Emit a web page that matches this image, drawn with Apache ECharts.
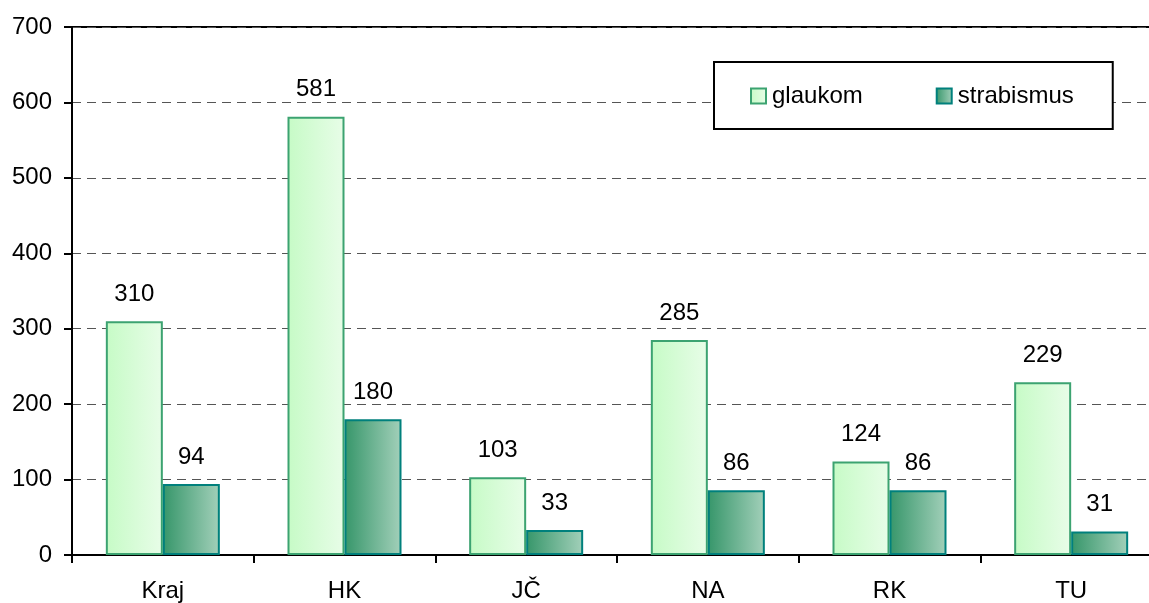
<!DOCTYPE html>
<html>
<head>
<meta charset="utf-8">
<script src="https://cdn.jsdelivr.net/npm/echarts@6/dist/echarts.min.js"></script>
<style>
  html, body { margin: 0; padding: 0; background: #fff; overflow: hidden; }
  /* plot area runs past the right edge of the picture, so the box is wider than the window */
  #chartBox { width: 1170px; height: 603px; }
</style>
</head>
<body>
<div id="chartBox"></div>
<script>
// data
const categories = ['Kraj', 'HK', 'JČ', 'NA', 'RK', 'TU']
const glaukom = [310, 581, 103, 285, 124, 229]
const strabismus = [94, 180, 33, 86, 86, 31]
const seriesNames = ['glaukom', 'strabismus']

const font = 'Arial, "Liberation Sans", sans-serif'

function grad (from, to) {
  return new echarts.graphic.LinearGradient(0, 0, 1, 0, [
    { offset: 0, color: from },
    { offset: 1, color: to }
  ])
}

let myChart = echarts.init(document.getElementById('chartBox'))
myChart.setOption({
  animation: false,
  textStyle: { fontFamily: font },
  grid: {
    left: 72,
    top: 27,
    right: 8,
    height: 528,
    show: true,
    borderColor: '#000',
    borderWidth: 2
  },
  legend: {
    left: 714,
    top: 62,
    orient: 'horizontal',
    icon: 'rect',
    padding: [22, 39, 21, 36],
    itemGap: 73,
    itemWidth: 15,
    itemHeight: 15,
    borderColor: '#000',
    borderWidth: 2,
    backgroundColor: '#fff',
    textStyle: { fontSize: 24, color: '#000', fontFamily: font, padding: [0, 0, 0, 1] },
    data: seriesNames
  },
  xAxis: {
    type: 'category',
    data: categories,
    axisLine: { lineStyle: { color: '#000', width: 2 } },
    axisTick: { show: true, length: 8, interval: 0, lineStyle: { color: '#000', width: 2 } },
    axisLabel: { fontSize: 24, color: '#000', margin: 24, interval: 0 },
    splitLine: { show: false }
  },
  yAxis: {
    type: 'value',
    min: 0,
    max: 700,
    interval: 100,
    axisLine: { show: true, lineStyle: { color: '#000', width: 2 } },
    axisTick: { show: true, length: 8, lineStyle: { color: '#000', width: 2 } },
    axisLabel: { fontSize: 24, color: '#000', margin: 20 },
    splitLine: { show: true, lineStyle: { color: '#555', type: [9, 6], width: 1 } }
  },
  series: [{
    name: seriesNames[0],
    type: 'bar',
    data: glaukom,
    barWidth: 57,
    barGap: '0%',
    itemStyle: {
      color: grad('#c6fbc6', '#e8fde8'),
      borderColor: '#3ca371',
      borderWidth: 2
    },
    label: { show: true, position: 'top', distance: 15, fontSize: 24, color: '#000' }
  }, {
    name: seriesNames[1],
    type: 'bar',
    data: strabismus,
    barWidth: 57,
    barGap: '0%',
    itemStyle: {
      color: grad('#36966a', '#a3d0ba'),
      borderColor: '#00807c',
      borderWidth: 2
    },
    label: { show: true, position: 'top', distance: 15, fontSize: 24, color: '#000' }
  }]
})
</script>
</body>
</html>
